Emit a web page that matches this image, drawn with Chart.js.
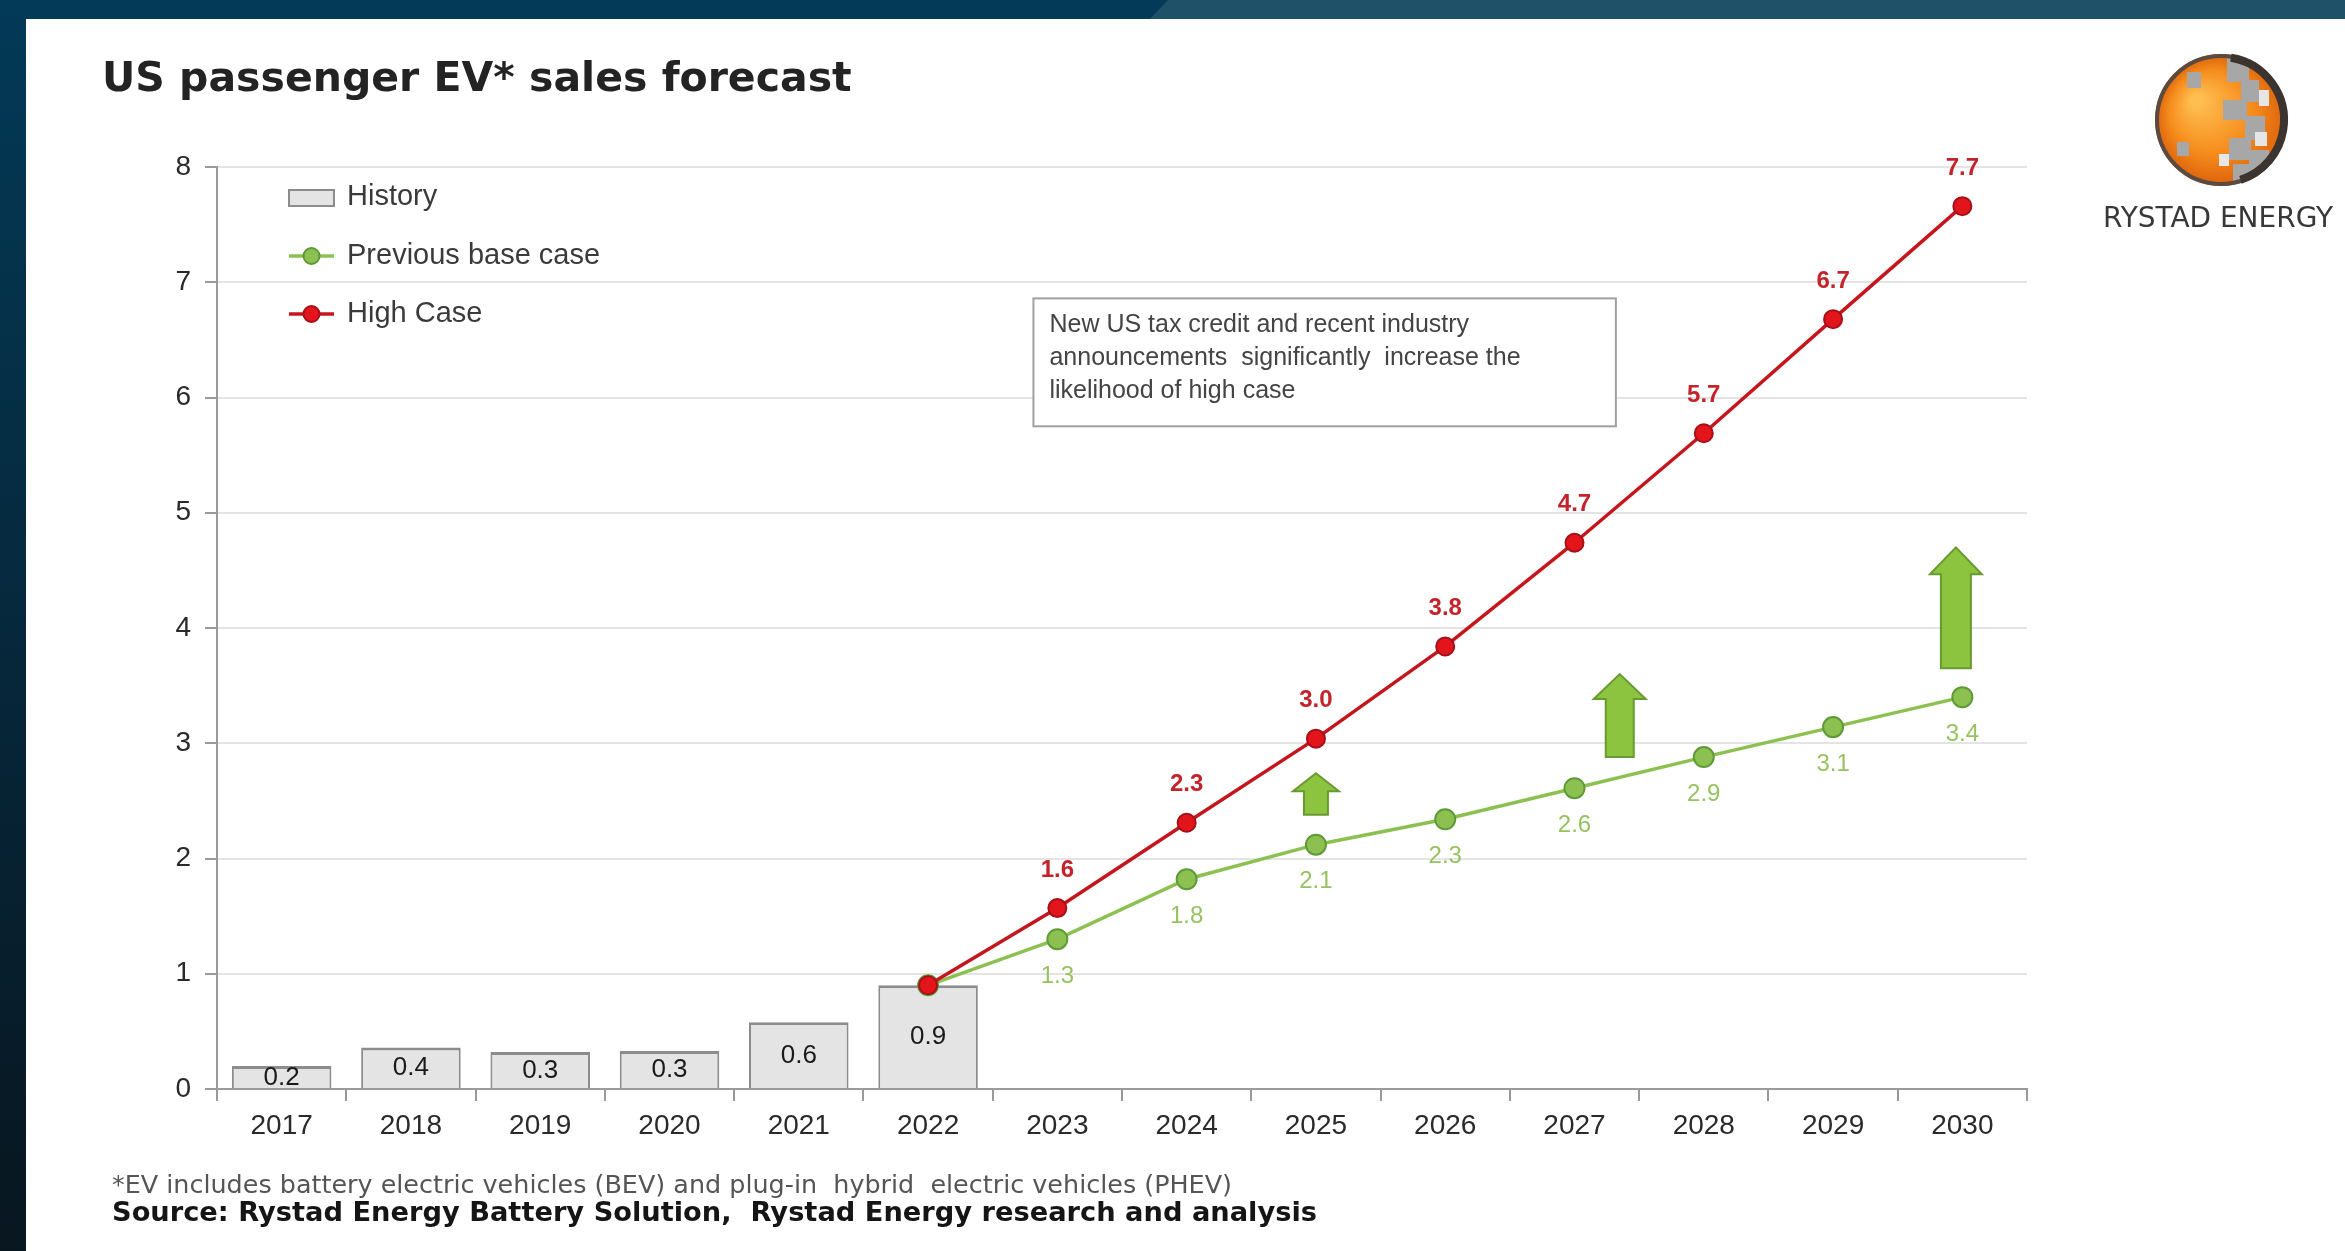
<!DOCTYPE html>
<html>
<head>
<meta charset="utf-8">
<script src="https://cdn.jsdelivr.net/npm/chart.js@4.4.0/dist/chart.umd.min.js"></script>
<style>
  html, body { margin: 0; padding: 0; background: #fff; }
  canvas { display: block; }
</style>
</head>
<body>
<canvas id="chart_ev" width="2345" height="1251"></canvas>
<script>
// values (million vehicles)
const years = ['2017', '2018', '2019', '2020', '2021', '2022', '2023', '2024', '2025', '2026', '2027', '2028', '2029', '2030'];
const history = [0.2, 0.36, 0.32, 0.33, 0.58, 0.9, null, null, null, null, null, null, null, null];
const baseCase = [null, null, null, null, null, 0.9, 1.3, 1.82, 2.12, 2.34, 2.61, 2.88, 3.14, 3.4];
const highCase = [null, null, null, null, null, 0.9, 1.57, 2.31, 3.04, 3.84, 4.74, 5.69, 6.68, 7.66];
const yMin = 0;
const yMax = 8;

const titleText = 'US passenger EV* sales forecast';
const noteText = '*EV includes battery electric vehicles (BEV) and plug-in  hybrid  electric vehicles (PHEV)';
const sourceText = 'Source: Rystad Energy Battery Solution,  Rystad Energy research and analysis';
const boxLines = ['New US tax credit and recent industry', 'announcements  significantly  increase the', 'likelihood of high case'];

// green "upside" arrows, in axis units (category index, value)
const arrows = [
  { x: 8, from: 2.38, to: 2.74, head: 46, shaft: 24, headH: 18 },
  { x: 10.35, from: 2.88, to: 3.6, head: 52, shaft: 28, headH: 25 },
  { x: 12.95, from: 3.65, to: 4.7, head: 52, shaft: 30, headH: 27 }
];

const pageDeco = {
  id: 'pageDeco',
  beforeDraw(chart) {
    const c = chart.ctx;
    c.save();
    c.fillStyle = '#ffffff';
    c.fillRect(0, 0, chart.width, chart.height);
    // top band
    c.fillStyle = '#033a57';
    c.fillRect(0, 0, 1200, 19);
    c.fillStyle = '#1f5169';
    c.beginPath();
    c.moveTo(1150, 19); c.lineTo(1168, 0); c.lineTo(chart.width, 0); c.lineTo(chart.width, 19);
    c.closePath(); c.fill();
    // left band
    const g = c.createLinearGradient(0, 0, 0, chart.height);
    g.addColorStop(0, '#033a57');
    g.addColorStop(0.5, '#06283c');
    g.addColorStop(1, '#08161f');
    c.fillStyle = g;
    c.fillRect(0, 0, 26, chart.height);
    c.restore();
  },
  afterDatasetsDraw(chart) {
    const c = chart.ctx;
    const xs = chart.scales.x, ys = chart.scales.y;
    c.save();
    // bar labels (centre of bar)
    c.font = '26px "Liberation Sans", Arial, sans-serif';
    c.fillStyle = '#1a1a1a';
    c.textAlign = 'center';
    c.textBaseline = 'middle';
    history.forEach((v, i) => {
      if (v === null) return;
      c.fillText(v.toFixed(1), xs.getPixelForValue(i), ys.getPixelForValue(v / 2));
    });
    // high case labels above
    c.font = 'bold 24px "Liberation Sans", Arial, sans-serif';
    c.fillStyle = '#c3242b';
    highCase.forEach((v, i) => {
      if (v === null || i <= 5) return;
      c.fillText(v.toFixed(1), xs.getPixelForValue(i), ys.getPixelForValue(v) - 38);
    });
    // base case labels below
    c.font = '24px "Liberation Sans", Arial, sans-serif';
    c.fillStyle = '#97c262';
    baseCase.forEach((v, i) => {
      if (v === null || i <= 5) return;
      c.fillText(v.toFixed(1), xs.getPixelForValue(i), ys.getPixelForValue(v) + 37);
    });
    // arrows
    arrows.forEach(a => {
      const cx = xs.getPixelForValue(a.x);
      const top = ys.getPixelForValue(a.to);
      const bot = ys.getPixelForValue(a.from);
      c.beginPath();
      c.moveTo(cx, top);
      c.lineTo(cx + a.head / 2, top + a.headH);
      c.lineTo(cx + a.shaft / 2, top + a.headH);
      c.lineTo(cx + a.shaft / 2, bot);
      c.lineTo(cx - a.shaft / 2, bot);
      c.lineTo(cx - a.shaft / 2, top + a.headH);
      c.lineTo(cx - a.head / 2, top + a.headH);
      c.closePath();
      c.fillStyle = '#8cc43f';
      c.fill();
      c.lineWidth = 2;
      c.strokeStyle = '#679a31';
      c.stroke();
    });
    // annotation box
    const bx1 = xs.getPixelForValue(5.815), bx2 = xs.getPixelForValue(10.32);
    const by1 = ys.getPixelForValue(6.86), by2 = ys.getPixelForValue(5.75);
    c.fillStyle = '#ffffff';
    c.fillRect(bx1, by1, bx2 - bx1, by2 - by1);
    c.lineWidth = 2;
    c.strokeStyle = '#a0a0a0';
    c.strokeRect(bx1, by1, bx2 - bx1, by2 - by1);
    c.font = '25px "Liberation Sans", Arial, sans-serif';
    c.fillStyle = '#444';
    c.textAlign = 'left';
    boxLines.forEach((t, k) => c.fillText(t, bx1 + 16, by1 + 27 + k * 33));
    c.restore();
  },
  afterDraw(chart) {
    const c = chart.ctx;
    c.save();
    c.textBaseline = 'middle';
    c.textAlign = 'left';
    // title
    c.fillStyle = '#232323';
    c.font = 'bold 41px "DejaVu Sans", Verdana, sans-serif';
    c.fillText(titleText, 102, 80, 760);
    // legend
    const lx = 289;
    c.font = '29px "Liberation Sans", Arial, sans-serif';
    c.fillStyle = '#3a3a3a';
    c.fillText('History', 347, 197);
    c.fillText('Previous base case', 347, 256);
    c.fillText('High Case', 347, 314);
    c.fillStyle = '#e4e4e4';
    c.fillRect(lx, 190, 45, 16);
    c.strokeStyle = '#8c8c8c';
    c.lineWidth = 2;
    c.strokeRect(lx, 190, 45, 16);
    [[256, '#8cc152', '#8cc152', '#5e9a35'], [314, '#c4161c', '#e3151b', '#a5101a']].forEach(([y, lc, pf, pb]) => {
      c.strokeStyle = lc; c.lineWidth = 3.5;
      c.beginPath(); c.moveTo(lx, y); c.lineTo(lx + 45, y); c.stroke();
      c.beginPath(); c.arc(lx + 22.5, y, 8, 0, Math.PI * 2);
      c.fillStyle = pf; c.fill();
      c.strokeStyle = pb; c.lineWidth = 2; c.stroke();
    });
    // footnotes
    c.fillStyle = '#555';
    c.font = '25.5px "DejaVu Sans", Verdana, sans-serif';
    c.fillText(noteText, 112, 1186, 1120);
    c.fillStyle = '#151515';
    c.font = 'bold 27.3px "DejaVu Sans", Verdana, sans-serif';
    c.fillText(sourceText, 112, 1214, 1205);
    // logo
    const gx = 2221, gy = 120, r = 66;
    c.save();
    c.beginPath(); c.ellipse(gx, gy, r, r, 0, 0, Math.PI * 2); c.clip();
    const rg = c.createRadialGradient(gx - 25, gy - 20, 5, gx, gy, r);
    rg.addColorStop(0, '#ffbe50');
    rg.addColorStop(0.6, '#f58c1c');
    rg.addColorStop(1, '#dc620c');
    c.fillStyle = rg;
    c.fillRect(gx - r, gy - r, 2 * r, 2 * r);
    c.fillStyle = '#a7a7a7';
    [[6, -64, 22, 26], [20, -40, 18, 22], [2, -20, 24, 20], [24, -4, 20, 24], [8, 18, 22, 22], [28, 30, 20, 22], [12, 44, 22, 22], [-34, -48, 14, 16], [-44, 22, 12, 14]].forEach(([dx, dy, w, h]) => c.fillRect(gx + dx, gy + dy, w, h));
    c.fillStyle = '#e6e6e6';
    [[34, 12, 12, 14], [-2, 34, 10, 12], [38, -30, 10, 16]].forEach(([dx, dy, w, h]) => c.fillRect(gx + dx, gy + dy, w, h));
    c.restore();
    c.beginPath(); c.ellipse(gx, gy, r - 2, r - 2, 0, 0, Math.PI * 2);
    c.lineWidth = 4; c.strokeStyle = '#5b4a3f'; c.stroke();
    c.beginPath(); c.ellipse(gx, gy, r - 3, r - 3, 0, -Math.PI * 0.45, Math.PI * 0.4);
    c.lineWidth = 8; c.strokeStyle = '#3b342f'; c.stroke();
    c.fillStyle = '#383838';
    c.textAlign = 'center';
    c.font = '28px "DejaVu Sans", Verdana, sans-serif';
    c.fillText('RYSTAD ENERGY', 2218, 220, 230);
    c.restore();
  }
};

const ctx_ev = document.getElementById('chart_ev').getContext('2d');
const ev = new Chart(ctx_ev, {
  type: 'bar',
  data: {
    labels: years,
    datasets: [{
      type: 'line',
      label: 'High Case',
      data: highCase,
      borderColor: '#c4161c',
      borderWidth: 3.5,
      pointRadius: 9,
      pointBackgroundColor: '#e3151b',
      pointBorderColor: '#a5101a',
      pointBorderWidth: 2,
      tension: 0,
      order: 1
    }, {
      type: 'line',
      label: 'Previous base case',
      data: baseCase,
      borderColor: '#8cc152',
      borderWidth: 3.5,
      pointRadius: 10,
      pointBackgroundColor: '#8cc152',
      pointBorderColor: '#5e9a35',
      pointBorderWidth: 2,
      tension: 0,
      order: 2
    }, {
      type: 'bar',
      label: 'History',
      data: history,
      backgroundColor: '#e4e4e4',
      borderColor: '#8c8c8c',
      borderWidth: { top: 3, left: 2, right: 2, bottom: 0 },
      borderSkipped: false,
      barPercentage: 0.77,
      categoryPercentage: 1,
      order: 3
    }]
  },
  options: {
    responsive: false,
    animation: false,
    layout: { padding: { left: 0, top: 167, right: 318, bottom: 0 } },
    plugins: {
      legend: { display: false },
      tooltip: { enabled: false }
    },
    scales: {
      x: {
        offset: true,
        grid: { display: true, offset: true, drawOnChartArea: false, drawTicks: true, tickLength: 12, tickColor: '#9a9a9a', lineWidth: 2 },
        border: { color: '#9a9a9a', width: 2 },
        ticks: { color: '#2a2a2a', font: { family: '"Liberation Sans", Arial, sans-serif', size: 28 }, padding: 8, maxRotation: 0 },
        afterFit(scale) { scale.height = 162; }
      },
      y: {
        min: yMin,
        max: yMax,
        ticks: { stepSize: 1, color: '#2a2a2a', font: { family: '"Liberation Sans", Arial, sans-serif', size: 28 }, padding: 14 },
        grid: { color: '#e4e4e4', lineWidth: 2, tickColor: '#9a9a9a', tickLength: 12 },
        border: { color: '#9a9a9a', width: 2 },
        afterFit(scale) { scale.width = 217; }
      }
    }
  },
  plugins: [pageDeco]
});
</script>
</body>
</html>
